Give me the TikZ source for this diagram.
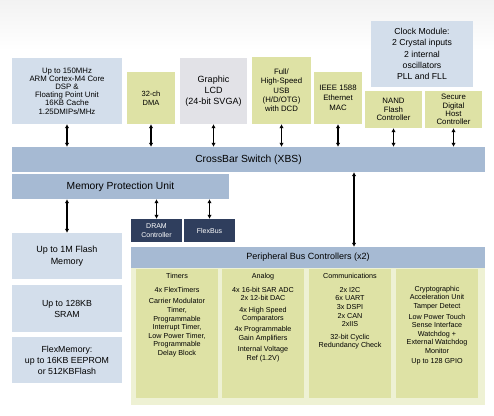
\documentclass[tikz,border=0pt]{standalone}
\usepackage{fontspec}
\setmainfont{Liberation Sans}
\usepackage{tikz}
\usetikzlibrary{arrows.meta}
\usetikzlibrary{positioning}
\definecolor{coreblue}{HTML}{D3DEEB}
\definecolor{busblue}{HTML}{A6BAD3}
\definecolor{periph}{HTML}{DEE2A5}
\definecolor{panelbg}{HTML}{EEF1D4}
\definecolor{lcdgray}{HTML}{E2E2E7}
\definecolor{navy}{HTML}{2F3E5D}

\begin{document}
\begin{tikzpicture}[x = 1pt, y = -1pt,
  blk/.style = {rectangle, inner sep = 0, align = center, text = black},
  mem/.style = {blk, fill = coreblue},
  per/.style = {blk, fill = periph},
  bus/.style = {blk, fill = busblue},
  ctl/.style = {blk, fill = navy, text = white},
  col/.style = {blk, fill = periph, minimum width = 82pt, minimum height = 129pt},
  coltext/.style = {blk, font = \fontsize{7.2}{8.6}\selectfont},
  link/.style = {line width = 1.2pt, {Latex[length = 4pt, width = 4.5pt]}-{Latex[length = 4pt, width = 4.5pt]}}]
 \useasboundingbox (0, 0) rectangle (494, 415);
  \fill [white] (0, 0) rectangle (494, 415);
  \shade [top color = black!5, bottom color = white] (0, 0) rectangle (494, 50);
  % top row
  \node [mem, minimum width = 110pt, minimum height = 66pt, font = \fontsize{7.8}{8.2}\selectfont] (core) at (67, 91)
    {Up to 150MHz\\ARM Cortex-M4 Core\\DSP \&\\Floating Point Unit\\16KB Cache\\1.25DMIPs/MHz};
  \node [per, minimum width = 48pt, minimum height = 52pt, font = \fontsize{7.5}{9}\selectfont] (dma) at (151, 98) {32-ch\\DMA};
  \node [blk, fill = lcdgray, minimum width = 67pt, minimum height = 66pt, font = \fontsize{9}{11.3}\selectfont] (lcd) at (213.5, 91)
    {Graphic\\LCD\\(24-bit SVGA)};
  \node [per, minimum width = 59pt, minimum height = 67pt, font = \fontsize{7.8}{9.3}\selectfont] (usb) at (281.5, 90.5)
    {Full/\\High-Speed\\USB\\(H/D/OTG)\\with DCD};
  \node [per, minimum width = 48pt, minimum height = 52pt, font = \fontsize{7.8}{10}\selectfont] (eth) at (338, 98)
    {IEEE 1588\\Ethernet\\MAC};
  \node [mem, minimum width = 102pt, minimum height = 66pt, font = \fontsize{8.7}{11.4}\selectfont] (clock) at (422, 54)
    {Clock Module:\\2 Crystal inputs\\2 internal\\oscillators\\PLL and FLL};
  \node [per, minimum width = 57pt, minimum height = 37pt, font = \fontsize{7.8}{8.7}\selectfont] (nand) at (393.5, 109.5)
    {NAND\\Flash\\Controller};
  \node [per, minimum width = 57pt, minimum height = 37pt, font = \fontsize{7.8}{8.3}\selectfont] (sdhc) at (453.5, 109.5)
    {Secure\\Digital\\Host\\Controller};
  % buses
  \node [bus, minimum width = 473pt, minimum height = 25pt, font = \fontsize{10.3}{12}\selectfont] (xbs) at (248.5, 159.5)
    {CrossBar Switch (XBS)};
  \node [bus, minimum width = 217pt, minimum height = 25pt, font = \fontsize{10.3}{12}\selectfont] (mpu) at (120.5, 186.5)
    {Memory Protection Unit};
  \node [ctl, minimum width = 51pt, minimum height = 23pt, font = \fontsize{7}{8.4}\selectfont] (dram) at (156.5, 230.5)
    {DRAM\\Controller};
  \node [ctl, minimum width = 51pt, minimum height = 23pt, font = \fontsize{7}{8.4}\selectfont] (flexbus) at (209.5, 230.5)
    {FlexBus};
  % memories
  \node [mem, minimum width = 110pt, minimum height = 46pt, font = \fontsize{9}{12.5}\selectfont] (flash) at (67, 256)
    {Up to 1M Flash\\Memory};
  \node [mem, minimum width = 110pt, minimum height = 47pt, font = \fontsize{8.8}{11}\selectfont] (sram) at (67, 308.5)
    {Up to 128KB\\SRAM};
  \node [mem, minimum width = 110pt, minimum height = 46pt, font = \fontsize{8.8}{11}\selectfont] (flexmem) at (67, 360)
    {FlexMemory:\\up to 16KB EEPROM\\or 512KBFlash};
  % peripherals
  \node [blk, fill = panelbg, minimum width = 354pt, minimum height = 137pt] (panel) at (308, 336.5) {};
  \node [bus, minimum width = 354pt, minimum height = 21pt, font = \fontsize{9}{11}\selectfont] (pbc) at (308, 257.5)
    {Peripheral Bus Controllers (x2)};
  \node [col] (timers) at (177, 333.5) {};
  \node [col] (analog) at (263, 333.5) {};
  \node [col] (comms) at (350, 333.5) {};
  \node [col] (crypto) at (437, 333.5) {};
  \node [coltext, below = 4.5pt of timers.north] (timerstext)
    {Timers\\[5pt]4x FlexTimers\\[3pt]Carrier Modulator\\Timer,\\Programmable\\Interrupt Timer,\\Low Power Timer,\\Programmable\\Delay Block};
  \node [coltext, below = 4.5pt of analog.north] (analogtext)
    {Analog\\[5pt]4x 16-bit SAR ADC\\2x 12-bit DAC\\[2.5pt]4x High Speed\\Comparators\\[2.5pt]4x Programmable\\Gain Amplifiers\\[2.5pt]Internal Voltage\\Ref (1.2V)};
  \node [coltext, below = 4.5pt of comms.north] (commstext)
    {Communications\\[5pt]2x I2C\\6x UART\\3x DSPI\\2x CAN\\2xIIS\\[4pt]32-bit Cyclic\\Redundancy Check};
  \node [coltext, below = 17pt of crypto.north] (cryptotext)
    {Cryptographic\\Acceleration Unit\\Tamper Detect\\[2pt]Low Power Touch\\Sense Interface\\Watchdog +\\External Watchdog\\Monitor\\[1pt]Up to 128 GPIO};
  % connections
  \draw [link] (core.south) -- (core.south |- xbs.north);
  \draw [link] (dma.south) -- (dma.south |- xbs.north);
  \draw [link] (lcd.south) -- (lcd.south |- xbs.north);
  \draw [link] (usb.south) -- (usb.south |- xbs.north);
  \draw [link] (eth.south) -- (eth.south |- xbs.north);
  \draw [link] (nand.south) -- (nand.south |- xbs.north);
  \draw [link] (sdhc.south) -- (sdhc.south |- xbs.north);
  \draw [link] (flash.north |- mpu.south) -- (flash.north);
  \draw [link] (dram.north |- mpu.south) -- (dram.north);
  \draw [link] (flexbus.north |- mpu.south) -- (flexbus.north);
  \coordinate (tap) at (354, 0);
  \draw [link] (xbs.south -| tap) -- (pbc.north -| tap);
 \end{tikzpicture}
\end{document}
